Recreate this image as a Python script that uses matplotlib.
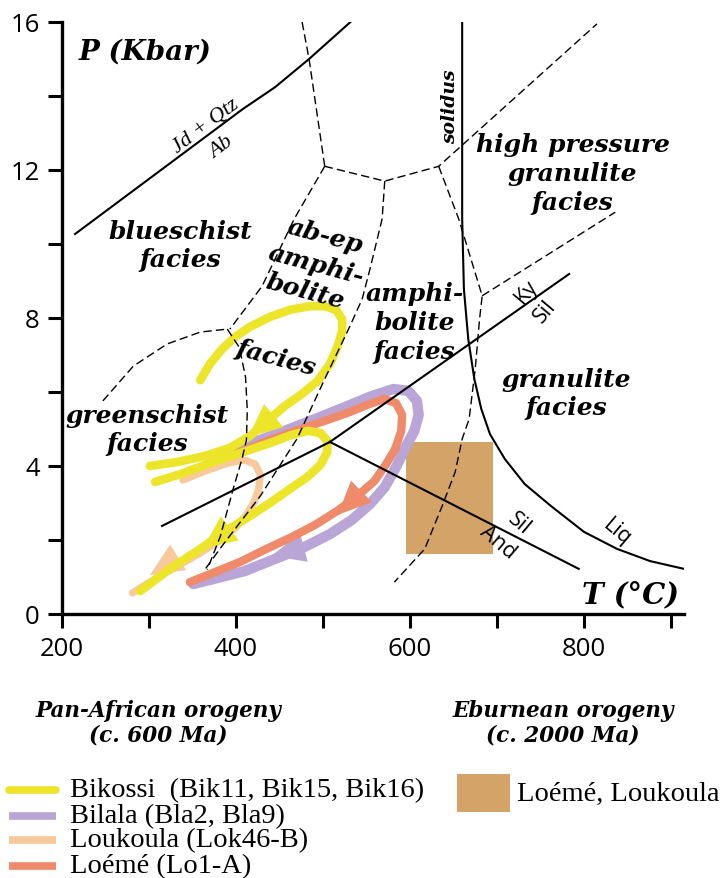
import matplotlib
matplotlib.use("Agg")
import matplotlib.pyplot as plt
from matplotlib.patches import FancyArrowPatch, Rectangle
from matplotlib.lines import Line2D

# ---------------- data ----------------
# reaction / facies boundaries (T in degC, P in kbar)
jd_T = [215, 408, 445, 484, 533]
jd_P = [10.27, 13.65, 14.24, 15.0, 16.03]

d1_T = [476, 484, 502]
d1_P = [16.0, 15.0, 12.1]
d2_T = [502, 571, 633, 685, 815]
d2_P = [12.1, 11.7, 12.1, 13.2, 15.95]
d3_T = [502, 467, 430, 393]
d3_P = [12.1, 10.68, 8.86, 7.7]
green_T = [247, 282, 321, 359, 390]
green_P = [5.76, 6.7, 7.3, 7.62, 7.7]
d5_T = [390, 404, 411, 413, 412, 407, 397, 382, 367]
d5_P = [7.7, 7.2, 6.4, 5.5, 4.7, 4.2, 3.4, 2.1, 1.2]
d4_T = [571, 568, 554, 545, 531, 502, 470, 428, 384, 363]
d4_P = [11.7, 10.68, 9.32, 8.51, 7.78, 6.35, 4.73, 3.19, 1.84, 1.16]
d6_T = [633, 656, 683, 680, 675, 668, 660, 652, 637, 617, 582]
d6_P = [12.1, 10.68, 8.6, 7.97, 6.62, 5.27, 4.73, 3.84, 2.92, 1.76, 0.86]
d7_T = [683, 836]
d7_P = [8.6, 10.86]

solidus_T = [660, 660, 662, 667, 674, 682, 692, 709, 732, 762, 800, 838, 876, 915]
solidus_P = [16.0, 10.68, 8.78, 7.43, 6.35, 5.54, 4.86, 4.19, 3.51, 2.92, 2.22, 1.76, 1.43, 1.22]

kyand_T = [315, 508]
kyand_P = [2.38, 4.65]
kysil_T = [508, 783]
kysil_P = [4.65, 9.19]
silan_T = [508, 794]
silan_P = [4.65, 1.22]

# Eburnean box
box_T = [595, 695]
box_P = [1.62, 4.65]

# P-T paths
bik1_T = [359, 370, 384, 399, 416, 439, 462, 485, 502, 515, 522, 522, 517, 508, 494,
          476, 456, 437, 416, 393, 364, 333, 301]
bik1_P = [6.32, 6.76, 7.16, 7.49, 7.76, 8.03, 8.22, 8.32, 8.32, 8.22, 7.97, 7.65, 7.24,
          6.76, 6.30, 5.95, 5.62, 5.24, 4.81, 4.49, 4.27, 4.11, 4.0]
bik2_T = [307, 336, 370, 405, 439, 464, 483, 497, 505, 505, 497, 482, 462, 439, 414,
          387, 359, 324, 290]
bik2_P = [3.57, 3.78, 4.08, 4.35, 4.62, 4.84, 4.95, 4.89, 4.68, 4.38, 4.03, 3.70, 3.38,
          3.0, 2.62, 2.22, 1.76, 1.22, 0.62]
bla_T = [390, 422, 456, 491, 525, 556, 581, 598, 608, 610, 605, 595, 584, 571, 554,
         533, 508, 476, 445, 410, 351]
bla_P = [4.32, 4.65, 4.95, 5.27, 5.59, 5.89, 6.08, 6.03, 5.76, 5.38, 4.95, 4.51, 3.97,
         3.43, 2.97, 2.54, 2.16, 1.78, 1.49, 1.16, 0.81]
lok_T = [339, 364, 391, 410, 422, 428, 426, 421, 412, 399, 382, 359, 333, 307, 281]
lok_P = [3.62, 3.86, 4.08, 4.16, 4.05, 3.76, 3.38, 3.03, 2.68, 2.32, 2.0, 1.65, 1.30,
         0.95, 0.57]
lo_T = [367, 399, 433, 468, 502, 531, 554, 571, 584, 591, 590, 583, 572, 559, 538,
        516, 491, 464, 435, 405, 347]
lo_P = [4.05, 4.32, 4.65, 4.95, 5.22, 5.46, 5.68, 5.81, 5.70, 5.38, 4.95, 4.46, 4.03,
        3.59, 3.16, 2.78, 2.41, 2.08, 1.76, 1.41, 0.86]

# arrow heads (tail -> tip)
arr_bik1 = [(454, 5.57), (414, 4.78)]
arr_bik2 = [(395, 2.35), (362, 1.78)]
arr_lok = [(332, 1.51), (301, 1.05)]
arr_bla = [(479, 1.81), (441, 1.57)]
arr_lo = [(539, 3.19), (517, 2.68)]

xticks = [200, 300, 400, 500, 600, 700, 800, 900]
xticklabels = ["200", "", "400", "", "600", "", "800", ""]
yticks = [0, 2, 4, 6, 8, 10, 12, 14, 16]
yticklabels = ["0", "", "4", "", "8", "", "12", "", "16"]

legend_labels = ["Bikossi  (Bik11, Bik15, Bik16)", "Bilala (Bla2, Bla9)",
                 "Loukoula (Lok46-B)", "Loémé (Lo1-A)"]
box_label = "Loémé, Loukoula"

# ---------------- style ----------------
c_yel = "#ECE52A"
c_lav = "#B9A6D6"
c_pea = "#F8C99B"
c_sal = "#EF8A6B"
c_box = "#D4A367"

serif_bi = dict(family="DejaVu Serif", weight="bold", style="italic")

fig = plt.figure(figsize=(7.27, 8.79), dpi=100)
ax = fig.add_axes([62 / 727, 264 / 879, 622 / 727, 592 / 879])
ax.set_xlim(200, 915)
ax.set_ylim(0, 16)

for s in ["top", "right"]:
    ax.spines[s].set_visible(False)
for s in ["left", "bottom"]:
    ax.spines[s].set_linewidth(2.4)
ax.set_xticks(xticks)
ax.set_xticklabels(xticklabels)
ax.set_yticks(yticks)
ax.set_yticklabels(yticklabels)
ax.tick_params(direction="out", length=10, width=2.2, labelsize=18.5, pad=6)
for lab_ in ax.get_xticklabels() + ax.get_yticklabels():
    lab_.set_family("Open Sans")

# box
ax.add_patch(Rectangle((box_T[0], box_P[0]), box_T[1] - box_T[0], box_P[1] - box_P[0],
                       facecolor=c_box, edgecolor="none", zorder=1))

# paths
pk = dict(solid_capstyle="round", solid_joinstyle="round")
ax.plot(bla_T, bla_P, color=c_lav, lw=7.5, zorder=2, **pk)
ax.plot(lo_T, lo_P, color=c_sal, lw=6, zorder=3, **pk)
ax.plot(lok_T, lok_P, color=c_pea, lw=5.2, zorder=3, **pk)
ax.plot(bik1_T, bik1_P, color=c_yel, lw=6.2, zorder=4, **pk)
ax.plot(bik2_T, bik2_P, color=c_yel, lw=6.2, zorder=4, **pk)

for (a, b), col, z in [(arr_bla, c_lav, 2), (arr_lo, c_sal, 3), (arr_lok, c_pea, 3),
                       (arr_bik1, c_yel, 4), (arr_bik2, c_yel, 4)]:
    ax.add_patch(FancyArrowPatch(a, b, arrowstyle="-|>,head_length=1.0,head_width=0.45",
                                 mutation_scale=24, color=col, lw=0, shrinkA=0, shrinkB=0,
                                 zorder=z))

# boundaries
solid = dict(color="black", lw=1.5, zorder=6)
dash = dict(color="black", lw=1.0, zorder=6, dashes=(6, 3))
ax.plot(jd_T, jd_P, **solid)
ax.plot(solidus_T, solidus_P, **solid)
ax.plot(kyand_T, kyand_P, **solid)
ax.plot(kysil_T, kysil_P, **solid)
ax.plot(silan_T, silan_P, **solid)
for T, P in [(d1_T, d1_P), (d2_T, d2_P), (d3_T, d3_P), (green_T, green_P),
             (d5_T, d5_P), (d4_T, d4_P), (d6_T, d6_P), (d7_T, d7_P)]:
    ax.plot(T, P, **dash)

# text labels
fz = 18
def lab(T, P, s, size=fz, rot=0, **kw):
    ax.text(T, P, s, ha="center", va="center", fontsize=size, rotation=rot,
            linespacing=1.25, zorder=7, rotation_mode="anchor", **serif_bi, **kw)

lab(295, 15.22, "P (Kbar)", size=20)
lab(853, 0.54, "T (°C)", size=21)
lab(336, 9.97, "blueschist\nfacies")
lab(298, 5.0, "greenschist\nfacies")
lab(605, 7.89, "amphi-\nbolite\nfacies")
lab(787, 11.92, "high pressure\ngranulite\nfacies")
lab(780, 5.97, "granulite\nfacies")
lab(502, 10.22, "ab-ep", rot=-15)
lab(492, 9.46, "amphi-", rot=-15)
lab(479, 8.73, "bolite", rot=-15)
lab(446, 6.95, "facies", rot=-15)
lab(646, 13.73, "solidus", size=13.5, rot=90)
ax.text(365, 13.19, "Jd + Qtz", ha="center", va="center", rotation=37, fontsize=16,
        family="Liberation Serif", style="italic", zorder=7, rotation_mode="anchor")
ax.text(383, 12.62, "Ab", ha="center", va="center", rotation=37, fontsize=16,
        family="Liberation Serif", style="italic", zorder=7, rotation_mode="anchor")
for T, P, s, r in [(734, 8.73, "Ky", 50), (755, 8.19, "Sil", 50),
                   (726, 2.46, "Sil", -40), (701, 1.95, "And", -40), (838, 2.24, "Liq", -40)]:
    ax.text(T, P, s, ha="center", va="center", rotation=r, fontsize=15.5,
            family="Open Sans", zorder=7, rotation_mode="anchor")

# orogeny captions
fig.text(158 / 727, 1 - 723 / 879, "Pan-African orogeny\n(c. 600 Ma)", ha="center",
         va="center", fontsize=15.5, linespacing=1.15, **serif_bi)
fig.text(563 / 727, 1 - 723 / 879, "Eburnean orogeny\n(c. 2000 Ma)", ha="center",
         va="center", fontsize=15.5, linespacing=1.15, **serif_bi)

# legend (drawn manually)
leg_cols = [c_yel, c_lav, c_pea, c_sal]
leg_caps = ["round", "butt", "butt", "butt"]
leg_y = [791, 817, 841, 867]
for col, cap, yy, txt in zip(leg_cols, leg_caps, leg_y, legend_labels):
    fig.add_artist(Line2D([9 / 727, 56 / 727], [1 - yy / 879] * 2, color=col, lw=5.5,
                          solid_capstyle=cap))
    fig.text(70 / 727, 1 - yy / 879, txt, ha="left", va="center", fontsize=20.5,
             family="Liberation Serif")
fig.add_artist(Rectangle((457 / 727, 1 - 813 / 879), 53 / 727, 38 / 879,
                         facecolor=c_box, edgecolor="none", transform=fig.transFigure))
fig.text(517 / 727, 1 - 794 / 879, box_label, ha="left", va="center", fontsize=20.5,
         family="Liberation Serif")

fig.savefig("out.png", dpi=100)
